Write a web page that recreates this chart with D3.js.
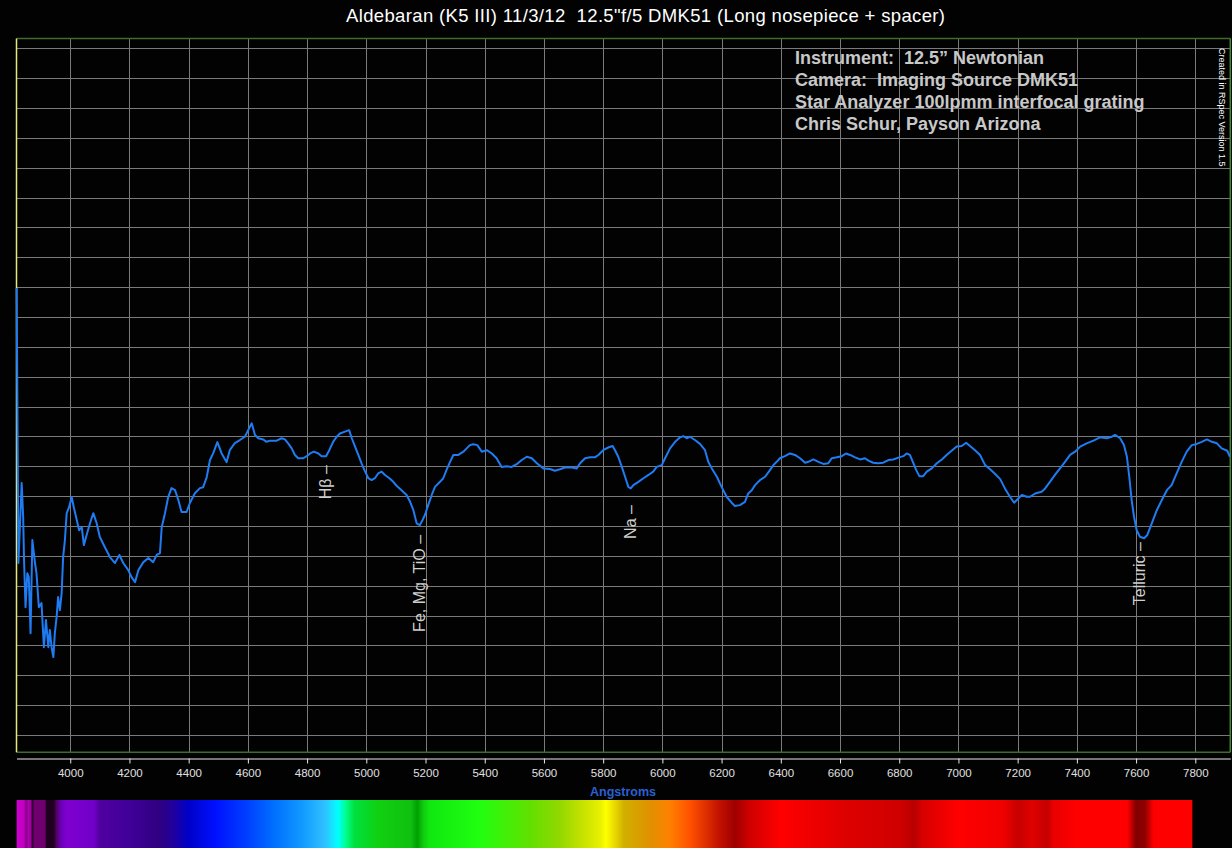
<!DOCTYPE html>
<html>
<head>
<meta charset="utf-8">
<script src="https://cdn.jsdelivr.net/npm/d3@7"></script>
<style>
  html, body { margin: 0; padding: 0; background: #000; }
  svg text { font-family: "Liberation Sans", Arial, sans-serif; }
</style>
</head>
<body>
<div id="chart"></div>
<script>
(function() {

    // Spectrum of Aldebaran: wavelength (Angstroms) and relative intensity
    var waves = [
        3819, 3822, 3825, 3836, 3841, 3844, 3849, 3855, 3860, 3866,
        3872, 3881, 3886, 3894, 3903, 3911, 3918, 3926, 3931, 3937,
        3943, 3948, 3954, 3959, 3965, 3971, 3976, 3982, 3988, 3996,
        4005, 4012, 4022, 4030, 4039, 4046, 4057, 4067, 4078, 4089,
        4100, 4117, 4134, 4151, 4166, 4179, 4196, 4207, 4219, 4230,
        4247, 4264, 4280, 4292, 4303, 4309, 4320, 4331, 4342, 4354,
        4365, 4376, 4393, 4404, 4421, 4438, 4449, 4461, 4472, 4483,
        4497, 4511, 4528, 4539, 4556, 4573, 4590, 4601, 4613, 4624,
        4635, 4652, 4663, 4675, 4697, 4714, 4725, 4736, 4748, 4759,
        4770, 4787, 4799, 4810, 4823, 4838, 4849, 4864, 4875, 4888,
        4900, 4911, 4928, 4942, 4951, 4962, 4973, 4984, 4996, 5007,
        5018, 5029, 5040, 5052, 5063, 5078, 5091, 5103, 5119, 5136,
        5148, 5159, 5170, 5181, 5190, 5198, 5209, 5221, 5232, 5249,
        5260, 5271, 5283, 5294, 5311, 5328, 5339, 5350, 5361, 5375,
        5390, 5407, 5424, 5440, 5457, 5474, 5491, 5508, 5525, 5542,
        5559, 5576, 5598, 5620, 5637, 5654, 5671, 5694, 5711, 5722,
        5739, 5756, 5772, 5784, 5800, 5817, 5832, 5840, 5851, 5863,
        5874, 5885, 5893, 5902, 5919, 5936, 5953, 5969, 5981, 5998,
        6009, 6026, 6043, 6060, 6071, 6082, 6093, 6110, 6127, 6144,
        6155, 6167, 6184, 6200, 6217, 6234, 6245, 6262, 6279, 6290,
        6302, 6313, 6330, 6347, 6364, 6375, 6386, 6397, 6414, 6431,
        6448, 6465, 6482, 6493, 6510, 6527, 6544, 6560, 6572, 6589,
        6606, 6620, 6634, 6651, 6668, 6684, 6696, 6712, 6729, 6746,
        6763, 6780, 6797, 6814, 6825, 6836, 6846, 6857, 6868, 6881,
        6893, 6910, 6927, 6944, 6960, 6977, 6994, 7011, 7026, 7039,
        7056, 7073, 7090, 7107, 7124, 7141, 7157, 7174, 7188, 7197,
        7214, 7231, 7242, 7259, 7281, 7293, 7309, 7326, 7343, 7360,
        7377, 7394, 7411, 7433, 7456, 7478, 7501, 7518, 7529, 7546,
        7559, 7569, 7577, 7585, 7593, 7602, 7613, 7627, 7638, 7653,
        7670, 7687, 7704, 7720, 7737, 7754, 7771, 7788, 7805, 7822,
        7839, 7856, 7873, 7889, 7908, 7917
    ];

    var intensity = [
        1.497, 1.021, 0.576, 0.844, 0.730, 0.586, 0.428, 0.542, 0.529, 0.341,
        0.653, 0.576, 0.542, 0.428, 0.442, 0.294, 0.385, 0.294, 0.352, 0.294,
        0.261, 0.341, 0.395, 0.462, 0.418, 0.475, 0.596, 0.653, 0.743, 0.763,
        0.797, 0.763, 0.720, 0.686, 0.696, 0.636, 0.676, 0.710, 0.743, 0.710,
        0.663, 0.629, 0.596, 0.576, 0.603, 0.576, 0.552, 0.529, 0.512, 0.552,
        0.579, 0.593, 0.579, 0.603, 0.609, 0.696, 0.743, 0.797, 0.827, 0.820,
        0.787, 0.747, 0.747, 0.777, 0.810, 0.827, 0.830, 0.864, 0.921, 0.944,
        0.981, 0.944, 0.914, 0.954, 0.978, 0.988, 0.999, 1.021, 1.044, 1.005,
        0.994, 0.990, 0.982, 0.986, 0.986, 0.994, 0.990, 0.977, 0.960, 0.938,
        0.927, 0.927, 0.934, 0.943, 0.949, 0.943, 0.934, 0.934, 0.954, 0.982,
        0.999, 1.010, 1.016, 1.021, 0.994, 0.966, 0.938, 0.910, 0.882, 0.860,
        0.854, 0.860, 0.876, 0.882, 0.871, 0.860, 0.848, 0.834, 0.820, 0.804,
        0.781, 0.753, 0.709, 0.703, 0.720, 0.737, 0.770, 0.804, 0.831, 0.848,
        0.860, 0.888, 0.915, 0.938, 0.938, 0.949, 0.960, 0.971, 0.974, 0.971,
        0.949, 0.954, 0.943, 0.927, 0.898, 0.900, 0.898, 0.907, 0.921, 0.932,
        0.927, 0.910, 0.893, 0.891, 0.885, 0.890, 0.896, 0.896, 0.893, 0.910,
        0.927, 0.930, 0.930, 0.938, 0.954, 0.963, 0.968, 0.954, 0.932, 0.898,
        0.865, 0.831, 0.826, 0.837, 0.848, 0.860, 0.871, 0.882, 0.898, 0.904,
        0.927, 0.960, 0.982, 0.997, 1.001, 0.994, 0.999, 0.988, 0.975, 0.954,
        0.915, 0.893, 0.865, 0.831, 0.798, 0.778, 0.767, 0.770, 0.781, 0.809,
        0.820, 0.837, 0.854, 0.865, 0.888, 0.904, 0.915, 0.927, 0.934, 0.943,
        0.938, 0.927, 0.912, 0.915, 0.923, 0.915, 0.908, 0.910, 0.927, 0.930,
        0.934, 0.943, 0.938, 0.930, 0.923, 0.927, 0.919, 0.912, 0.910, 0.912,
        0.921, 0.923, 0.929, 0.934, 0.943, 0.938, 0.915, 0.888, 0.867, 0.867,
        0.882, 0.893, 0.910, 0.923, 0.938, 0.952, 0.966, 0.968, 0.979, 0.968,
        0.954, 0.938, 0.904, 0.890, 0.874, 0.857, 0.826, 0.798, 0.778, 0.787,
        0.804, 0.798, 0.798, 0.809, 0.815, 0.826, 0.848, 0.871, 0.893, 0.915,
        0.938, 0.949, 0.966, 0.977, 0.986, 0.997, 0.994, 0.999, 1.005, 0.994,
        0.971, 0.932, 0.865, 0.787, 0.731, 0.686, 0.664, 0.659, 0.670, 0.709,
        0.753, 0.787, 0.820, 0.837, 0.876, 0.915, 0.949, 0.971, 0.975, 0.982,
        0.990, 0.982, 0.977, 0.960, 0.952, 0.932
    ];

    // Axis ticks and grid levels
    var tickWaves = [4000, 4200, 4400, 4600, 4800, 5000, 5200, 5400, 5600, 5800,
                     6000, 6200, 6400, 6600, 6800, 7000, 7200, 7400, 7600, 7800];
    var gridLevels = [0.0, 0.1, 0.2, 0.3, 0.4, 0.5, 0.6, 0.7, 0.8, 0.9, 1.0, 1.1,
                      1.2, 1.3, 1.4, 1.5, 1.6, 1.7, 1.8, 1.9, 2.0, 2.1, 2.2, 2.3];

    // Line identifications
    var lineNames = ["H\u03B2 \u2013", "Fe, Mg, TiO \u2013", "Na \u2013", "Telluric \u2013"];
    var lineWaves = [4861, 5181, 5892, 7613];
    var lineLevels = [0.904, 0.670, 0.770, 0.646];

    // Info box
    var infoLines = [
        "Instrument:  12.5\u201D Newtonian",
        "Camera:  Imaging Source DMK51",
        "Star Analyzer 100lpmm interfocal grating",
        "Chris Schur, Payson Arizona"
    ];

    // Synthetic spectrum strip under the axis: wavelength and colour
    var stripWaves = [3819, 3844, 3850, 3858, 3866, 3872, 3880, 3914, 3920, 3945, 3952,
                      3972, 3990, 4080, 4100, 4200, 4300, 4350, 4400, 4490, 4600,
                      4690, 4780, 4860, 4905, 4930, 4960, 5040, 5150, 5172, 5195,
                      5215, 5380, 5550, 5650, 5720, 5790, 5810, 5870, 5960, 6025,
                      6095, 6145, 6195, 6245, 6295, 6400, 6600, 6800, 6850, 6880,
                      7000, 7150, 7200, 7250, 7300, 7320, 7400, 7570, 7600, 7630,
                      7660, 7790];
    var stripColors = ["#d000d0", "#c000c0", "#800080", "#b000b0", "#a000a0", "#300030",
                       "#700070", "#700070", "#200020", "#200020", "#500060",
                       "#7000c0", "#8000d0", "#7000c8", "#5000a0", "#40009a", "#300080",
                       "#2000a0", "#0000c8", "#0010ff", "#0040ff",
                       "#0070ff", "#1098ff", "#30c0ff", "#00ffff", "#00ff90", "#00e040",
                       "#10d010", "#10c010", "#00a000", "#10d010",
                       "#10e810", "#20ff10", "#60e000", "#90d800", "#c0e000", "#e8f000",
                       "#ffff00", "#d0b000", "#e09000", "#ff8000",
                       "#ff5000", "#e03000", "#c01000", "#a00000", "#d00000", "#ff0000",
                       "#e00000", "#d00000", "#b80000", "#d80000",
                       "#ff0000", "#f00000", "#c80000", "#e00000", "#c40000", "#e80000",
                       "#ff0000", "#ff0000", "#800000", "#900000",
                       "#ff0000", "#ff0000"];

    var width = 1232;
    var height = 848;

    var plotLeft = 16.5, plotRight = 1230.3, plotTop = 38.5, plotBottom = 752.3;

    var svg = d3.select("#chart")
        .append("svg")
        .attr("width", width)
        .attr("height", height)
        .style("display", "block")
        .style("background", "#020202");

    // Scales
    var x = d3.scaleLinear()
        .domain([3818.5, 7918.2])
        .range([plotLeft, plotRight]);

    var y = d3.scaleLinear()
        .domain([-0.058, 2.333])
        .range([plotBottom, plotTop]);

    // Title
    svg.append("text")
        .attr("x", 346)
        .attr("y", 22)
        .attr("fill", "#ffffff")
        .attr("font-size", "18.5px")
        .attr("textLength", 599)
        .attr("lengthAdjust", "spacing")
        .style("white-space", "pre")
        .text("Aldebaran (K5 III) 11/3/12  12.5\"f/5 DMK51 (Long nosepiece + spacer)");

    // Grid
    var grid = svg.append("g");
    grid.selectAll("line.h")
        .data(gridLevels)
        .enter().append("line")
        .attr("class", "h")
        .attr("x1", plotLeft)
        .attr("x2", plotRight)
        .attr("y1", d => Math.round(y(d)) + 0.5)
        .attr("y2", d => Math.round(y(d)) + 0.5)
        .attr("stroke", "#7a7a7a")
        .attr("stroke-width", 1);

    grid.selectAll("line.v")
        .data(tickWaves)
        .enter().append("line")
        .attr("class", "v")
        .attr("x1", d => Math.round(x(d)) + 0.5)
        .attr("x2", d => Math.round(x(d)) + 0.5)
        .attr("y1", plotTop)
        .attr("y2", plotBottom)
        .attr("stroke", "#7a7a7a")
        .attr("stroke-width", 1);

    // Plot frame
    svg.append("line")
        .attr("x1", plotLeft).attr("x2", plotRight)
        .attr("y1", plotTop).attr("y2", plotTop)
        .attr("stroke", "#3f6a30").attr("stroke-width", 1.5);
    svg.append("line")
        .attr("x1", plotLeft).attr("x2", plotRight)
        .attr("y1", plotBottom).attr("y2", plotBottom)
        .attr("stroke", "#3f6a30").attr("stroke-width", 1.5);
    svg.append("line")
        .attr("x1", plotRight).attr("x2", plotRight)
        .attr("y1", plotTop).attr("y2", plotBottom)
        .attr("stroke", "#3f8a30").attr("stroke-width", 1.5);
    svg.append("line")
        .attr("x1", plotLeft).attr("x2", plotLeft)
        .attr("y1", plotTop).attr("y2", plotBottom)
        .attr("stroke", "#e6e67a").attr("stroke-width", 1.5);

    // Spectrum curve
    var points = waves.map((w, i) => [w, intensity[i]]);
    var line = d3.line()
        .x(d => x(d[0]))
        .y(d => y(d[1]));

    svg.append("path")
        .datum(points)
        .attr("d", line)
        .attr("fill", "none")
        .attr("stroke", "#1f7cf2")
        .attr("stroke-width", 2)
        .attr("stroke-linejoin", "round");

    // Line identification labels, rotated to read upward
    svg.append("g")
        .selectAll("text")
        .data(lineNames)
        .enter().append("text")
        .attr("transform", (d, i) => "translate(" + (x(lineWaves[i]) + 5.5) + "," + y(lineLevels[i]) + ") rotate(-90)")
        .attr("text-anchor", "end")
        .attr("fill", "#cfcfcf")
        .attr("font-size", "16px")
        .style("white-space", "pre")
        .text(d => d);

    // Info text block
    svg.append("g")
        .selectAll("text")
        .data(infoLines)
        .enter().append("text")
        .attr("x", 795)
        .attr("y", (d, i) => 64 + i * 22)
        .attr("fill", "#c8c8c8")
        .attr("font-size", "18px")
        .attr("font-weight", "bold")
        .style("white-space", "pre")
        .text(d => d);

    // RSpec credit
    svg.append("text")
        .attr("transform", "translate(1219,48) rotate(90)")
        .attr("fill", "#ffffff")
        .attr("font-size", "9px")
        .text("Created in RSpec Version 1.5");

    // X axis
    var xAxis = d3.axisBottom(x)
        .tickValues(tickWaves)
        .tickSize(5)
        .tickPadding(5)
        .tickSizeOuter(0)
        .tickFormat(d3.format("d"));

    var gx = svg.append("g")
        .attr("transform", "translate(0,758.5)")
        .call(xAxis);

    gx.select(".domain").attr("stroke", "#e8e8e8");
    gx.selectAll(".tick line").attr("stroke", "#e8e8e8");
    gx.selectAll(".tick text")
        .attr("fill", "#e0e0e0")
        .attr("font-size", "11.5px")
        .attr("font-family", "\"Liberation Sans\", Arial, sans-serif");

    svg.append("text")
        .attr("x", 623)
        .attr("y", 796)
        .attr("text-anchor", "middle")
        .attr("fill", "#2a60d0")
        .attr("font-size", "12.5px")
        .attr("font-weight", "bold")
        .text("Angstroms");

    // Spectrum colour strip
    var x0 = x(stripWaves[0]);
    var x1 = x(stripWaves[stripWaves.length - 1]);
    var grad = svg.append("defs")
        .append("linearGradient")
        .attr("id", "strip")
        .attr("x1", "0%").attr("x2", "100%")
        .attr("y1", "0%").attr("y2", "0%");

    grad.selectAll("stop")
        .data(stripWaves)
        .enter().append("stop")
        .attr("offset", d => ((x(d) - x0) / (x1 - x0) * 100) + "%")
        .attr("stop-color", (d, i) => stripColors[i]);

    svg.append("rect")
        .attr("x", x0)
        .attr("y", 800)
        .attr("width", x1 - x0)
        .attr("height", 48)
        .attr("fill", "url(#strip)");

})();
</script>
</body>
</html>
